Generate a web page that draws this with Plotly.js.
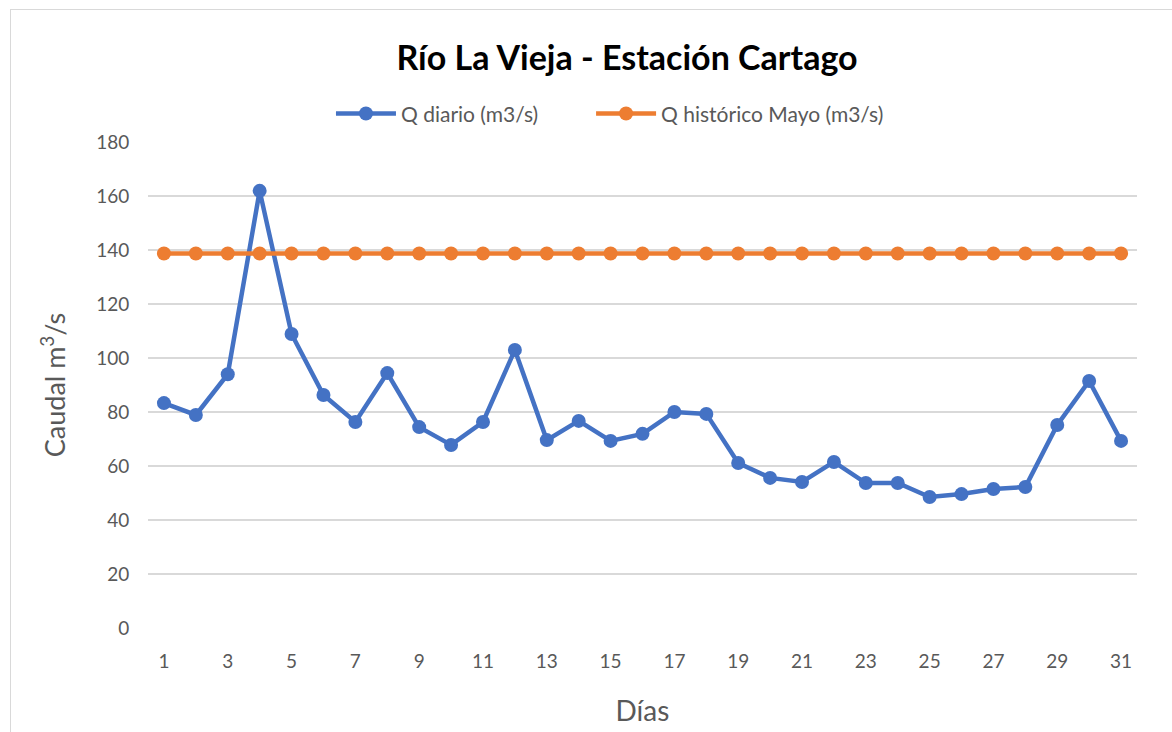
<!DOCTYPE html>
<html>
<head>
<meta charset="utf-8">
<script src="https://cdn.plot.ly/plotly-3.0.1.min.js"></script>
<style>
  html, body { margin: 0; padding: 0; background: #ffffff; }
  #wrap { position: relative; width: 1172px; height: 732px; overflow: hidden; }
  #chart { width: 1172px; height: 732px; }
  #frame { position: absolute; left: 10px; top: 9px; width: 1200px; height: 800px;
           border: 1px solid #d9d9d9; pointer-events: none; }
</style>
</head>
<body>
<div id="wrap">
  <div id="chart"></div>
  <div id="frame"></div>
</div>
<script>
const days = [1,2,3,4,5,6,7,8,9,10,11,12,13,14,15,16,17,18,19,20,21,22,23,24,25,26,27,28,29,30,31];
const qDiario = [83.3,78.9,94.0,161.9,108.9,86.3,76.3,94.4,74.4,67.8,76.3,103.0,69.6,76.7,69.3,71.9,80.0,79.3,61.1,55.6,54.1,61.5,53.7,53.7,48.5,49.6,51.5,52.2,75.2,91.5,69.3];
const qHistoricoMayo = days.map(() => 138.7);
const xTickVals = [1,3,5,7,9,11,13,15,17,19,21,23,25,27,29,31];
const yTickVals = [0,20,40,60,80,100,120,140,160,180];

const FONT = 'Lato, "Open Sans", sans-serif';
const GREY = '#595959';

const traces = [
  {
    x: days, y: qDiario, name: 'Q diario (m3/s)', type: 'scatter', mode: 'lines+markers',
    line: { color: '#4472C4', width: 4.5 },
    marker: { color: '#4472C4', size: 14 },
    legend: 'legend'
  },
  {
    x: days, y: qHistoricoMayo, name: 'Q histórico Mayo (m3/s)', type: 'scatter', mode: 'lines+markers',
    line: { color: '#ED7D31', width: 4.5 },
    marker: { color: '#ED7D31', size: 14 },
    legend: 'legend2'
  }
];

const legendBase = {
  orientation: 'h', xanchor: 'left', y: 1.058, yanchor: 'middle',
  font: { family: FONT, size: 21, color: GREY },
  itemwidth: 60, bgcolor: 'rgba(0,0,0,0)'
};

const layout = {
  width: 1172, height: 732,
  paper_bgcolor: '#ffffff', plot_bgcolor: '#ffffff',
  margin: { l: 148, r: 35, t: 142, b: 104 },
  font: { family: FONT, color: GREY },
  title: {
    text: '<b>Río La Vieja - Estación Cartago</b>',
    font: { family: FONT, size: 34, color: '#000000' },
    x: 0.535, xanchor: 'center', y: 0.92, yanchor: 'middle'
  },
  showlegend: true,
  legend: Object.assign({}, legendBase, { x: 0.185 }),
  legend2: Object.assign({}, legendBase, { x: 0.448 }),
  xaxis: {
    range: [0.5, 31.5], tickmode: 'array', tickvals: xTickVals, ticktext: xTickVals.map(String),
    showgrid: false, zeroline: false, showline: false,
    ticks: 'outside', ticklen: 16, tickcolor: 'rgba(0,0,0,0)',
    tickfont: { family: FONT, size: 19, color: GREY },
    title: { text: 'Días', font: { family: FONT, size: 28, color: GREY }, standoff: 30 }
  },
  yaxis: {
    range: [0, 180], tickmode: 'array', tickvals: yTickVals,
    showgrid: true, gridcolor: '#d9d9d9', gridwidth: 1.3,
    zeroline: false, showline: false,
    ticks: 'outside', ticklen: 14, tickcolor: 'rgba(0,0,0,0)',
    tickfont: { family: FONT, size: 19, color: GREY },
    title: { text: 'Caudal m<sup>3</sup>/s', font: { family: FONT, size: 27, color: GREY }, standoff: 22 }
  }
};

Plotly.newPlot('chart', traces, layout, { displayModeBar: false, staticPlot: true });
</script>
</body>
</html>
